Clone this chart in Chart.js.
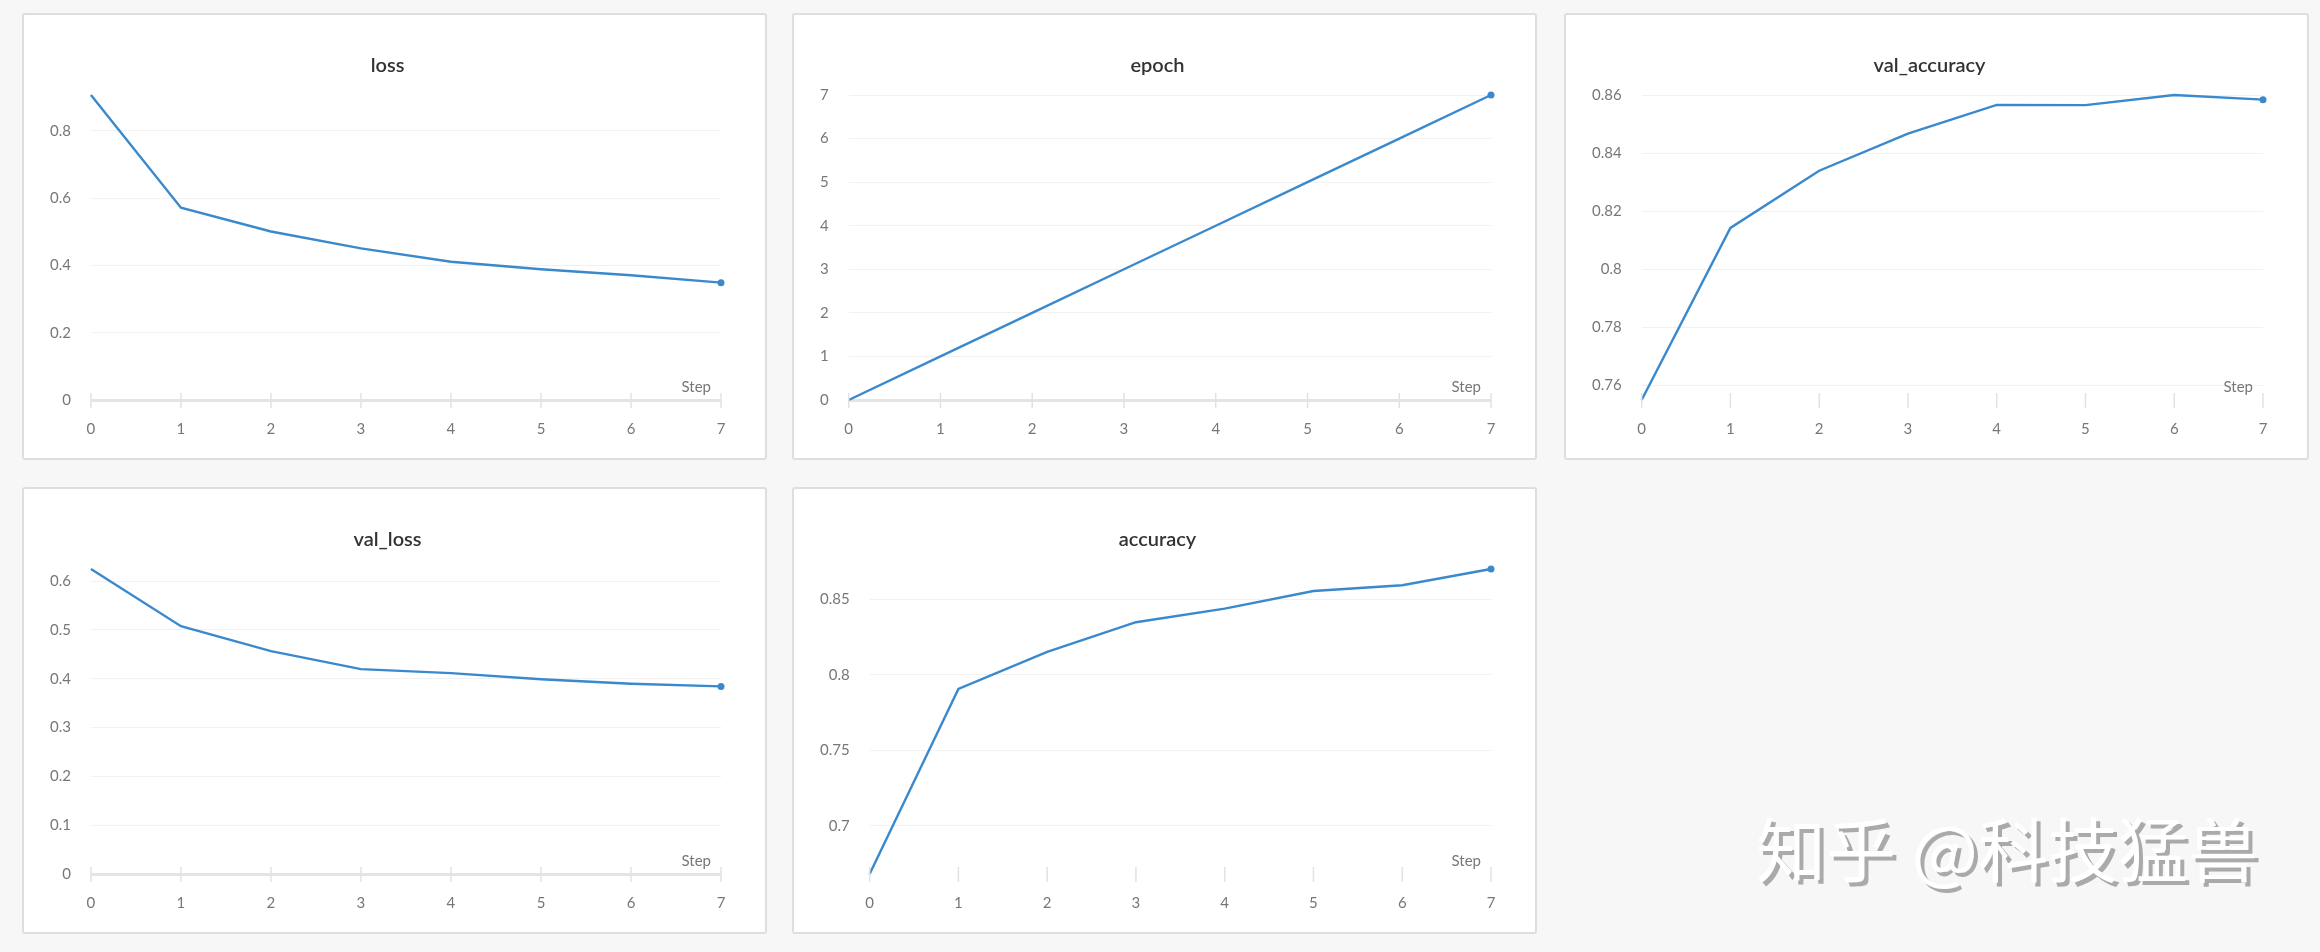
<!DOCTYPE html>
<html lang="en">
<head>
  <meta charset="UTF-8">
  <title>Training metrics</title>
  <script src="https://cdn.jsdelivr.net/npm/chart.js"></script>
  <style>
    body { margin: 0; background: #f7f7f7; width: 2320px; height: 952px; position: relative; overflow: hidden; font-family: Lato, sans-serif; }
    .panel { position: absolute; width: 741px; height: 443px; background: #fff; border: 2px solid #dedede; border-radius: 3px; }
    .panel canvas { display: block; }
    .watermark { position: absolute; left: 1756px; top: 812px; font-family: "Noto Sans CJK SC", sans-serif; font-size: 70px; line-height: 1; color: #fff; text-shadow: 4px 4px 0 #aaa; white-space: nowrap; }
  </style>
</head>
<body>
  <div class="panel" style="left:22px; top:13px;"><canvas id="lossChart" width="741" height="443"></canvas></div>
  <div class="panel" style="left:792px; top:13px;"><canvas id="epochChart" width="741" height="443"></canvas></div>
  <div class="panel" style="left:1564px; top:13px;"><canvas id="valAccChart" width="741" height="443"></canvas></div>
  <div class="panel" style="left:22px; top:487px;"><canvas id="valLossChart" width="741" height="443"></canvas></div>
  <div class="panel" style="left:792px; top:487px;"><canvas id="accChart" width="741" height="443"></canvas></div>
  <div class="watermark">知乎 @科技猛兽</div>

<script>
// steps on the x axis
const steps = ['0', '1', '2', '3', '4', '5', '6', '7'];

// values
const lossValues = [0.907, 0.572, 0.501, 0.451, 0.411, 0.389, 0.371, 0.349];
const epochValues = [0, 1, 2, 3, 4, 5, 6, 7];
const valAccuracyValues = [0.7549, 0.8142, 0.8339, 0.8467, 0.8566, 0.8565, 0.8600, 0.8584];
const valLossValues = [0.6247, 0.5075, 0.4564, 0.4196, 0.4114, 0.399, 0.3896, 0.3842];
const accuracyValues = [0.668, 0.7907, 0.8154, 0.835, 0.844, 0.8557, 0.8595, 0.8703];

// y tick labels per chart
const lossTicks = [0, 0.2, 0.4, 0.6, 0.8];
const epochTicks = [0, 1, 2, 3, 4, 5, 6, 7];
const valAccuracyTicks = [0.76, 0.78, 0.8, 0.82, 0.84, 0.86];
const valLossTicks = [0, 0.1, 0.2, 0.3, 0.4, 0.5, 0.6];
const accuracyTicks = [0.7, 0.75, 0.8, 0.85];

const lineColor = '#3a89cd';
const labelColor = '#777';

// title, "Step" caption and the little x tick marks
const panelDecor = {
  id: 'panelDecor',
  afterDraw(chart, args, opts) {
    const ctx = chart.ctx;
    const area = chart.chartArea;
    const xScale = chart.scales.x;
    ctx.save();
    // tick marks
    ctx.strokeStyle = '#e2e2e2';
    ctx.lineWidth = 1.5;
    xScale.ticks.forEach((t, i) => {
      const px = xScale.getPixelForTick(i);
      ctx.beginPath();
      ctx.moveTo(px, area.bottom - 7);
      ctx.lineTo(px, area.bottom + 8);
      ctx.stroke();
    });
    // Step caption
    ctx.fillStyle = labelColor;
    ctx.font = '15px Lato';
    ctx.textAlign = 'right';
    ctx.textBaseline = 'middle';
    ctx.fillText('Step', area.right - 10, area.bottom - 13);
    // title
    ctx.fillStyle = '#333';
    ctx.font = '600 20px Lato';
    ctx.textAlign = 'center';
    ctx.fillText(opts.title, chart.width / 2 - 7, 51);
    ctx.restore();
  }
};

function makeChart(id, title, values, tickValues, yMin, yMax) {
  const last = values.length - 1;
  new Chart(document.getElementById(id), {
    type: 'line',
    data: {
      labels: steps,
      datasets: [{
        data: values,
        borderColor: lineColor,
        backgroundColor: lineColor,
        borderWidth: 2.4,
        pointRadius: (c) => c.dataIndex === last ? 3.5 : 0,
        pointBorderWidth: 0,
        tension: 0,
        clip: false
      }]
    },
    options: {
      responsive: false,
      animation: false,
      events: [],
      layout: { padding: { top: 80, left: 6, right: 44, bottom: 0 } },
      plugins: {
        legend: { display: false },
        tooltip: { enabled: false },
        panelDecor: { title: title }
      },
      scales: {
        x: {
          offset: false,
          grid: { display: false, drawTicks: false },
          border: { display: false },
          ticks: { color: labelColor, font: { family: 'Lato', size: 15 }, padding: 20, maxRotation: 0 }
        },
        y: {
          min: yMin,
          max: yMax,
          afterBuildTicks: (scale) => { scale.ticks = tickValues.map(v => ({ value: v })); },
          grid: {
            drawTicks: false,
            color: (c) => c.tick && c.tick.value === 0 ? '#e4e4e4' : '#f1f1f1',
            lineWidth: (c) => c.tick && c.tick.value === 0 ? 3 : 1
          },
          border: { display: false },
          ticks: {
            color: labelColor,
            font: { family: 'Lato', size: 15 },
            padding: 20,
            callback: (v) => String(Number(v.toFixed(4)))
          }
        }
      }
    },
    plugins: [panelDecor]
  });
}

makeChart('lossChart', 'loss', lossValues, lossTicks, 0, Math.max(...lossValues));
makeChart('epochChart', 'epoch', epochValues, epochTicks, 0, Math.max(...epochValues));
makeChart('valAccChart', 'val_accuracy', valAccuracyValues, valAccuracyTicks, Math.min(...valAccuracyValues), Math.max(...valAccuracyValues));
makeChart('valLossChart', 'val_loss', valLossValues, valLossTicks, 0, Math.max(...valLossValues));
makeChart('accChart', 'accuracy', accuracyValues, accuracyTicks, Math.min(...accuracyValues), Math.max(...accuracyValues));
</script>
</body>
</html>
